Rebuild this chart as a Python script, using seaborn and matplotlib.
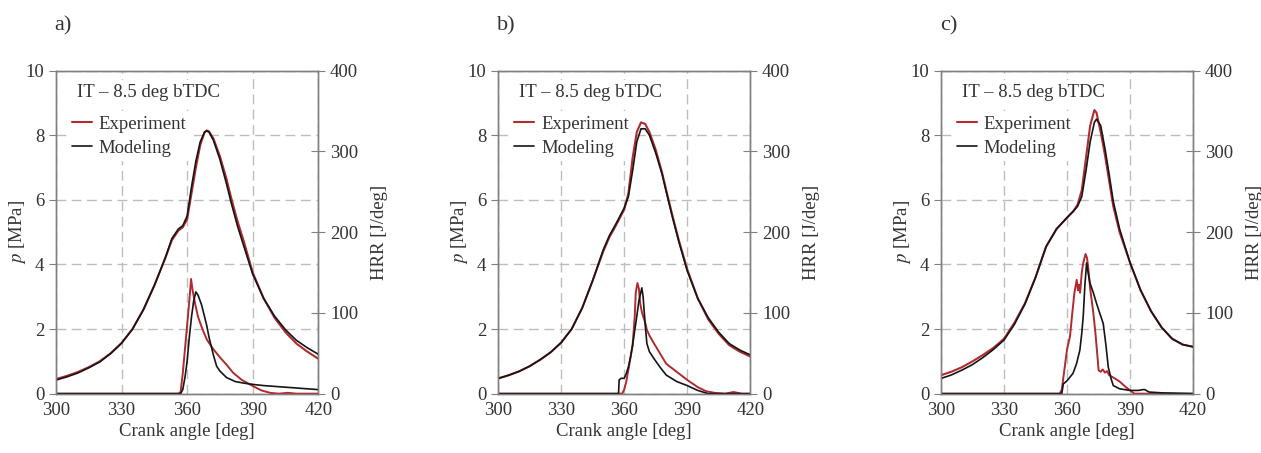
import numpy as np
import pandas as pd
import seaborn as sns
import matplotlib.pyplot as plt

# --- данные ---
# a)
a_p_x = [300, 305, 310, 315, 320, 325, 330, 335, 340, 345, 350, 353, 356, 358, 360, 362, 364, 366, 368, 369,
         370, 372, 375, 378, 380, 383, 386, 390, 395, 400, 405, 410, 415, 420]
a_p_exp = [0.45, 0.55, 0.67, 0.82, 1.0, 1.25, 1.57, 2.0, 2.6, 3.35, 4.2, 4.75, 5.05, 5.15, 5.4, 6.2, 7.0, 7.7, 8.1, 8.15,
           8.12, 7.9, 7.35, 6.65, 6.1, 5.35, 4.7, 3.75, 2.95, 2.35, 1.9, 1.55, 1.3, 1.08]
a_p_mod = [0.42, 0.52, 0.64, 0.8, 0.98, 1.24, 1.56, 2.0, 2.6, 3.35, 4.2, 4.8, 5.1, 5.2, 5.5, 6.4, 7.2, 7.8, 8.1, 8.13,
           8.1, 7.85, 7.25, 6.5, 5.95, 5.2, 4.55, 3.7, 2.95, 2.4, 1.98, 1.65, 1.42, 1.22]
a_h_exp_x = [300, 356, 357, 358, 359, 360, 361, 361.8, 362.5, 363.6, 365, 367, 369, 372, 375, 378, 381, 385, 390,
             394, 398, 402, 406, 410, 415, 420]
a_h_exp = [0, 0, 2, 25, 55, 85, 115, 142, 128, 112, 95, 80, 67, 55, 45, 36, 26, 17, 9.5, 4, 1, 0, 1, 0, 0, 0]
a_h_mod_x = [300, 357, 358, 359, 360, 361, 362, 363, 364, 365, 366.6, 368, 369, 370, 372, 373.5, 375, 378, 382, 386,
             390, 395, 400, 405, 410, 415, 420]
a_h_mod = [0, 0, 5, 20, 40, 70, 95, 115, 126, 122, 110, 95, 84, 70, 48, 34, 28, 20, 15, 13, 11.5, 10, 9, 8, 7, 6, 5]

# b)
b_p_x = [300, 305, 310, 315, 320, 325, 330, 335, 340, 345, 350, 353, 356, 358, 360, 362, 364, 366, 368, 370, 372,
         375, 378, 380, 383, 386, 390, 395, 400, 405, 410, 415, 420]
b_p_exp = [0.47, 0.57, 0.69, 0.85, 1.05, 1.28, 1.58, 2.0, 2.65, 3.5, 4.4, 4.85, 5.2, 5.45, 5.7, 6.2, 7.3, 8.1, 8.4,
           8.35, 8.1, 7.55, 6.85, 6.3, 5.5, 4.75, 3.85, 2.95, 2.3, 1.85, 1.5, 1.3, 1.15]
b_p_mod = [0.47, 0.57, 0.69, 0.85, 1.05, 1.28, 1.58, 2.0, 2.65, 3.5, 4.45, 4.9, 5.25, 5.5, 5.75, 6.1, 6.9, 7.8, 8.2,
           8.2, 8.0, 7.45, 6.8, 6.25, 5.45, 4.7, 3.8, 2.95, 2.35, 1.9, 1.55, 1.35, 1.2]
b_h_exp_x = [300, 359, 360, 361, 362, 363, 364, 365, 365.5, 366.3, 367, 367.6, 368.5, 370, 370.8, 372, 374, 377, 380,
             385, 390, 395, 399, 403, 408, 412, 416, 420]
b_h_exp = [0, 0, 5, 15, 30, 45, 60, 95, 125, 137, 130, 112, 100, 88, 79, 72, 63, 50, 37, 27, 17, 8, 3, 1, 0, 2, 0, 0]
b_h_mod_x = [300, 357.3, 357.6, 358.5, 360, 361, 362, 363, 364, 365, 366, 367, 368.4, 369, 370, 370.8, 372, 374, 377,
             380, 385, 390, 395, 400, 420]
b_h_mod = [0, 0, 17, 19, 19, 25, 33, 45, 60, 78, 96, 115, 131, 120, 85, 62, 52, 44, 33, 23, 15, 10, 4, 0, 0]

# c)
c_p_x = [300, 305, 310, 315, 320, 325, 330, 335, 340, 345, 350, 355, 360, 363, 365, 367, 369, 371, 373, 374, 376,
         378, 380, 382, 385, 390, 395, 400, 405, 410, 415, 420]
c_p_exp = [0.57, 0.68, 0.82, 1.0, 1.2, 1.42, 1.7, 2.2, 2.8, 3.6, 4.55, 5.1, 5.45, 5.65, 5.85, 6.3, 7.3, 8.3, 8.78,
           8.7, 8.1, 7.4, 6.6, 5.8, 5.0, 4.05, 3.2, 2.55, 2.05, 1.7, 1.52, 1.45]
c_p_mod = [0.47, 0.58, 0.73, 0.9, 1.12, 1.37, 1.66, 2.15, 2.78, 3.6, 4.55, 5.1, 5.45, 5.65, 5.8, 6.1, 6.9, 7.8, 8.4,
           8.5, 8.3, 7.6, 6.8, 5.95, 5.1, 4.05, 3.2, 2.55, 2.05, 1.7, 1.52, 1.45]
c_h_exp_x = [300, 356.5, 357.5, 359, 360, 361.4, 362.5, 363.5, 364.6, 365.2, 365.6, 366.2, 367, 367.7, 368.8, 369.5,
             370, 371, 372.5, 373.5, 374.5, 375, 376, 377, 378, 379, 380, 382, 385, 388, 390, 392, 420]
c_h_exp = [0, 0, 5, 35, 55, 71, 100, 125, 141, 128, 135, 125, 150, 162, 173, 168, 158, 130, 100, 75, 45, 29, 27, 30,
           26, 28, 23, 20, 15, 8, 4, 0, 0]
c_h_mod_x = [300, 357.5, 358.2, 360, 362.8, 364.5, 366.1, 367, 367.7, 368.5, 369.3, 370, 370.9, 372.5, 374, 375.5,
             377.2, 378.5, 379.6, 381, 382, 385, 390, 394, 396, 397, 399, 405, 420]
c_h_mod = [0, 0, 12, 16, 25, 37, 54, 75, 96, 135, 162, 150, 137, 125, 112, 100, 87, 60, 33, 18, 10, 6, 4, 4, 5, 5, 2,
           1, 0]

panels = [
    ("a)", a_p_x, a_p_exp, a_p_mod, a_h_exp_x, a_h_exp, a_h_mod_x, a_h_mod, [0.0444, 0.131, 0.208, 0.713]),
    ("b)", b_p_x, b_p_exp, b_p_mod, b_h_exp_x, b_h_exp, b_h_mod_x, b_h_mod, [0.395, 0.131, 0.200, 0.713]),
    ("c)", c_p_x, c_p_exp, c_p_mod, c_h_exp_x, c_h_exp, c_h_mod_x, c_h_mod, [0.7462, 0.131, 0.200, 0.713]),
]

sns.set_style("ticks")
plt.rcParams['font.family'] = ['Liberation Serif', 'DejaVu Serif']
plt.rcParams['mathtext.fontset'] = 'stix'
plt.rcParams['font.size'] = 13

RED = '#b02a2e'
BLACK = '#151515'
TXT = '#333333'
SPINE = '#808080'
FS = 13.5

fig = plt.figure(figsize=(12.61, 4.53), dpi=100)

for label, px, pexp, pmod, hex_x, hexp, hmod_x, hmod, rect in panels:
    ax = fig.add_axes(rect)
    ax2 = ax.twinx()
    w_px = rect[2] * 1261

    sns.lineplot(x=px, y=pexp, ax=ax, color=RED, lw=1.5, label='Experiment', legend=False, zorder=4)
    sns.lineplot(x=px, y=pmod, ax=ax, color=BLACK, lw=1.2, label='Modeling', legend=False, zorder=4)
    sns.lineplot(x=hex_x, y=hexp, ax=ax2, color=RED, lw=1.4, legend=False)
    sns.lineplot(x=hmod_x, y=hmod, ax=ax2, color=BLACK, lw=1.2, legend=False)

    ax.set_xlim(300, 420)
    ax.set_ylim(0, 10)
    ax2.set_ylim(0, 400)
    ax.set_xticks([300, 330, 360, 390, 420])
    ax.set_yticks([0, 2, 4, 6, 8, 10])
    ax2.set_yticks([0, 100, 200, 300, 400])

    ax.grid(True, color='#bdbdbd', ls=(0, (7, 4)), lw=1.0)
    ax.set_xlabel('Crank angle [deg]', color=TXT, fontsize=FS, labelpad=3)
    ax.set_ylabel(r'$p$ [MPa]', color=TXT, fontsize=FS, labelpad=-2)
    ax2.set_ylabel('HRR [J/deg]', color=TXT, fontsize=FS, labelpad=9)

    for a in (ax, ax2):
        for s in a.spines.values():
            s.set_color(SPINE)
            s.set_linewidth(1.0)
    ax.tick_params(axis='y', direction='out', length=5, color=SPINE, labelcolor=TXT, labelsize=FS)
    ax.tick_params(axis='x', direction='out', length=0, pad=6, labelcolor=TXT, labelsize=FS)
    ax2.tick_params(axis='y', direction='inout', length=10, color=SPINE, labelcolor=TXT, labelsize=FS)

    # подпись режима над легендой
    ax.text(21 / w_px, 0.932, 'IT – 8.5 deg bTDC', transform=ax.transAxes, fontsize=FS, color=TXT,
            ha='left', va='center', zorder=3,
            bbox=dict(facecolor='white', edgecolor='none', pad=3))

    h, l = ax.get_legend_handles_labels()
    leg = ax.legend(h, l, loc='upper left', bbox_to_anchor=(11 / w_px, 0.875), borderaxespad=0,
                    frameon=True, facecolor='white', edgecolor='none', framealpha=1, fancybox=False,
                    handlelength=1.1, handletextpad=0.35, labelspacing=0.36, borderpad=0.25,
                    fontsize=FS, labelcolor=TXT)
    leg.set_zorder(3)

    fig.text(rect[0] - 0.001, 0.943, label, fontsize=16, color=TXT, va='center', ha='left')

fig.savefig('out.png', dpi=100)
